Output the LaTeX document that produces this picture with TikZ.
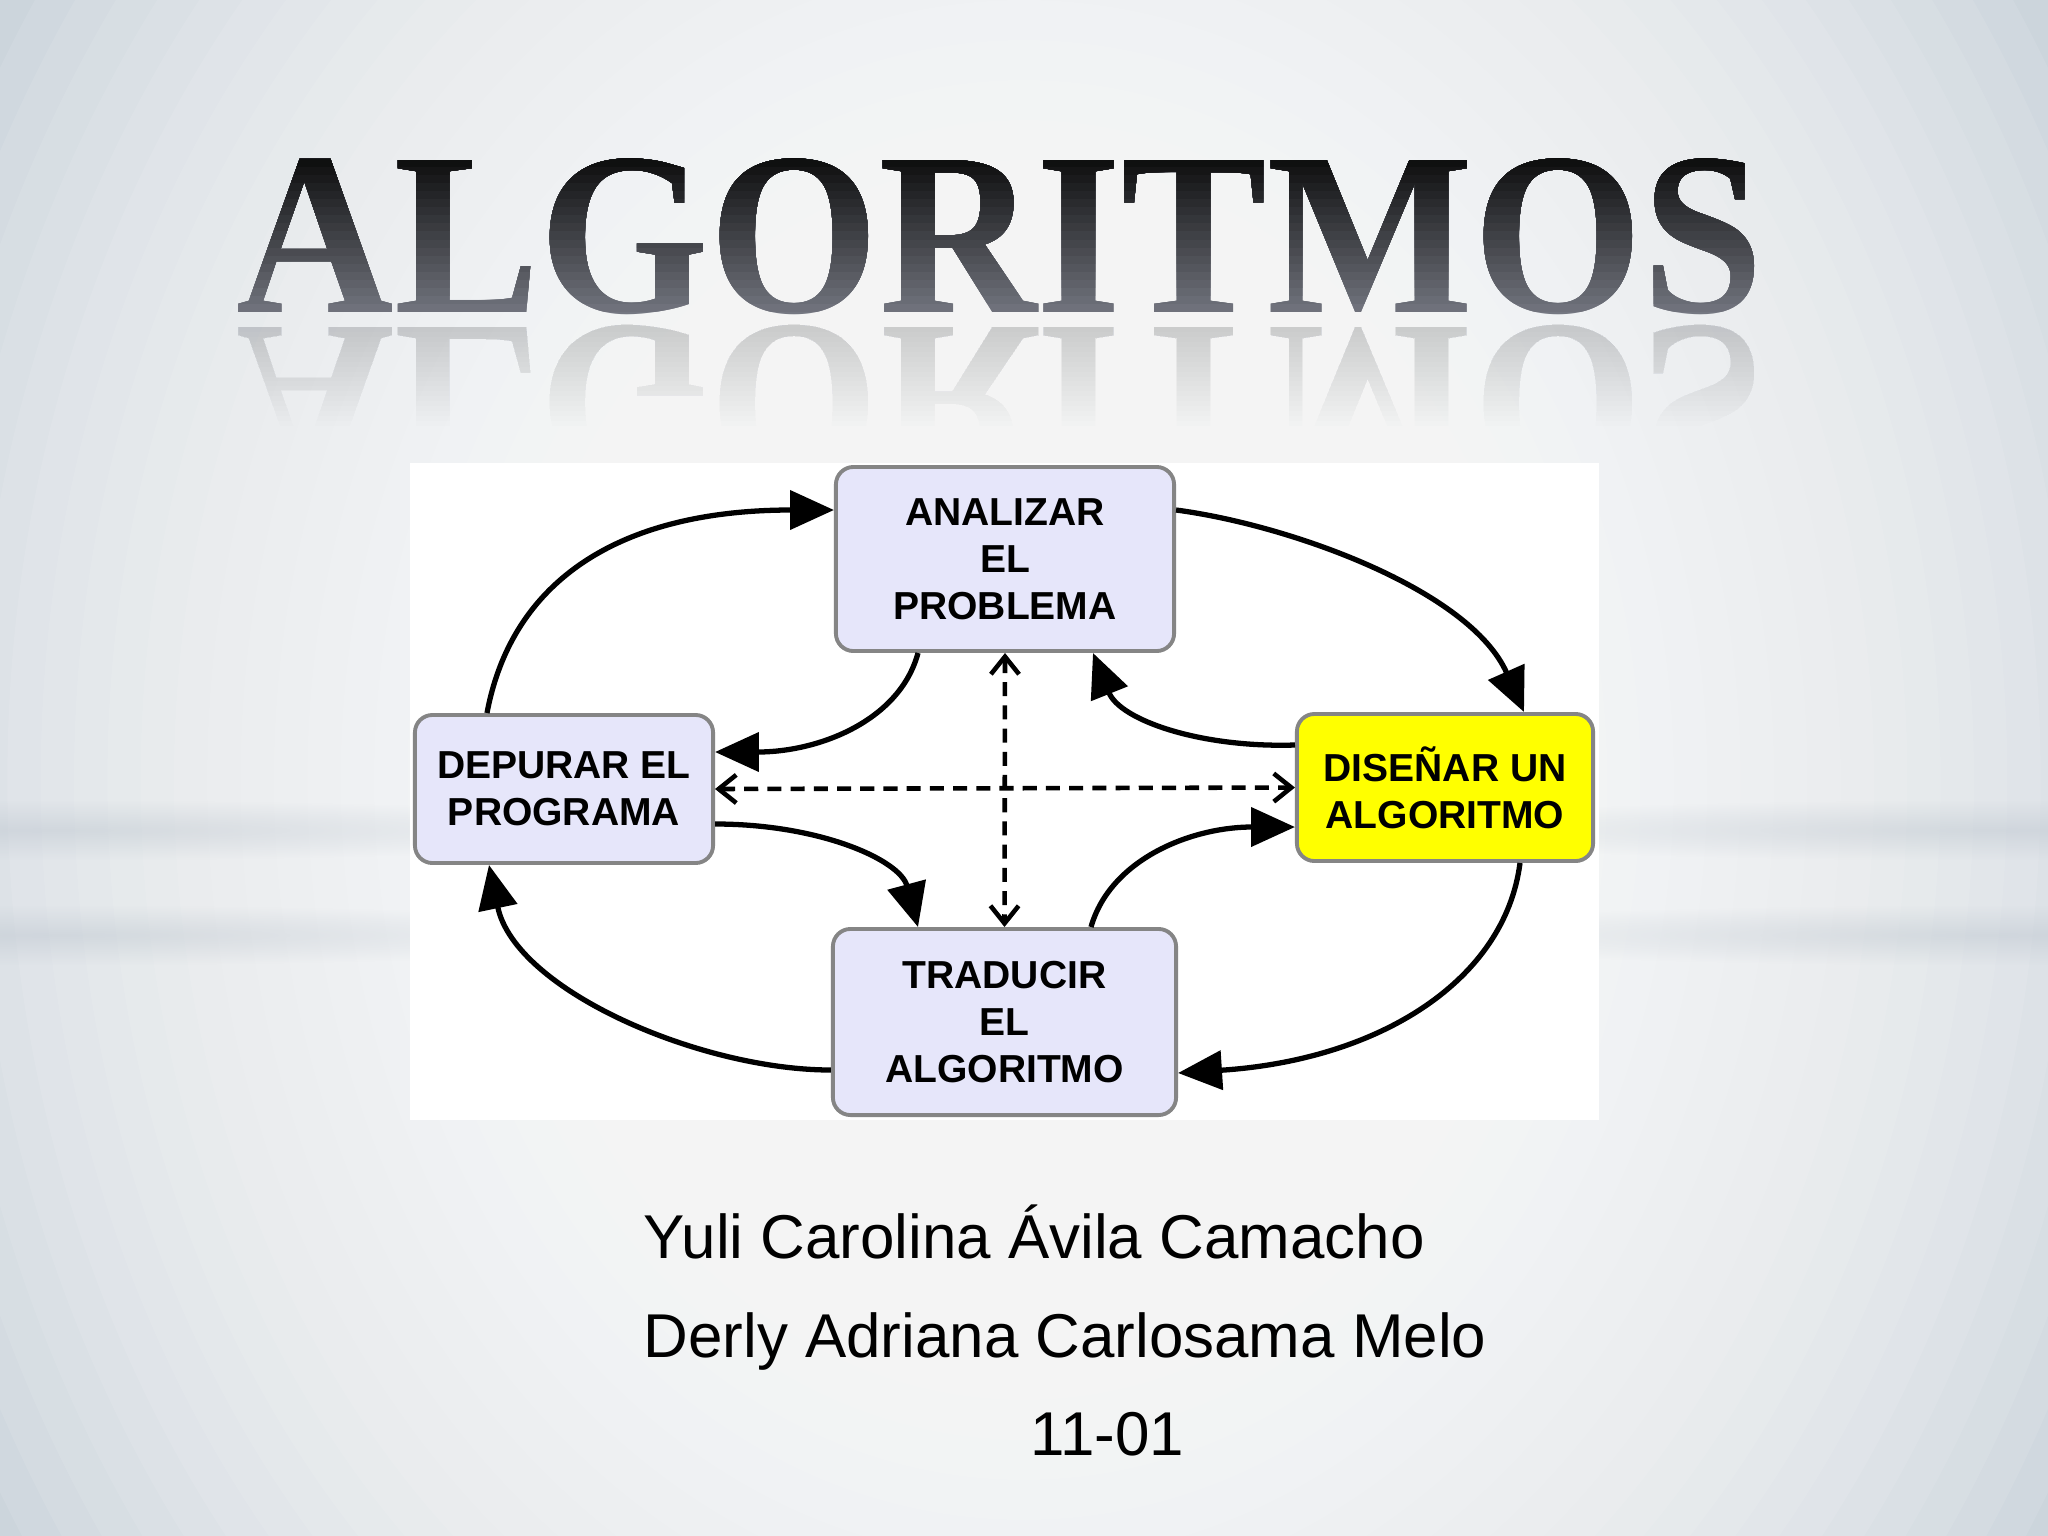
\documentclass[tikz,border=0pt]{standalone}
\usepackage{fontspec}
\newfontfamily\sansf{Liberation Sans}
\newfontfamily\seriff{Liberation Serif}
\usetikzlibrary{arrows.meta,shapes.misc,fadings}
\definecolor{boxfill}{HTML}{E6E6FA}
\definecolor{boxline}{HTML}{858585}
\definecolor{ylw}{HTML}{FFFF00}
\definecolor{bgout}{HTML}{C2CDD6}
\definecolor{bandc}{HTML}{BCC5CE}
\definecolor{ttop}{HTML}{0A0A0A}
\definecolor{tbot}{HTML}{747781}
\definecolor{refl}{HTML}{8C9098}
\tikzfading[name=softband, inner color=transparent!55, outer color=transparent!100]
\tikzset{
  box/.style={rectangle, rounded corners=5pt,
    draw=boxline, line width=1.1pt, fill=boxfill, inner sep=0pt, align=center,
    font=\sansf\bfseries\fontsize{11.1}{13.4}\selectfont},
  arr/.style={line width=1.5pt, -{Triangle[length=12.5pt,width=11pt]}},
  darr/.style={line width=1.3pt, dash pattern=on 4pt off 2.6pt,
    {Straight Barb[length=5pt,width=8pt]}-{Straight Barb[length=5pt,width=8pt]}},
  ttl/.style={anchor=base west, inner sep=0pt, font=\seriff\bfseries\fontsize{66}{66}\selectfont},
  auth/.style={anchor=base west, inner sep=0pt, font=\sansf\fontsize{17.6}{20}\selectfont}
}
\begin{document}
\begin{tikzpicture}[x=0.01cm,y=-0.01cm]
\useasboundingbox (0,0) rectangle (2048,1536);
% background: layered light ellipses
\fill[bgout] (0,0) rectangle (2048,1536);
\foreach \k in {0,...,29} {
  \pgfmathsetmacro{\s}{1-0.8*\k/30}
  \fill[white, opacity=0.09] (1024,780) ellipse ({1250*\s} and {1500*\s});
}
\fill[bandc, path fading=softband] (-600,800) rectangle (700,860);
\fill[bandc, path fading=softband] (-600,905) rectangle (700,965);
\fill[bandc, path fading=softband] (1350,800) rectangle (2650,860);
\fill[bandc, path fading=softband] (1350,905) rectangle (2650,965);
% title with vertical gradient
\foreach \k in {0,...,20} {
  \pgfmathsetmacro{\yc}{320 - \k*8.1}
  \pgfmathtruncatemacro{\mixp}{100*\k/20}
  \begin{scope}
    \clip (0,0) rectangle (2048,\yc);
    \node[ttl, text=ttop!\mixp!tbot, name=tt\k] at (236,312) {\scalebox{0.94}[1]{ALGORITMOS}};
  \end{scope}
}
% reflection
\foreach \k in {0,...,19} {
  \pgfmathsetmacro{\yc}{425 - \k*4.9}
  \begin{scope}
    \clip (0,320) rectangle (2048,\yc);
    \node[ttl, text=refl, text opacity=0.02, name=tr\k] at (236,327) {\scalebox{0.94}[-1]{ALGORITMOS}};
  \end{scope}
}
% diagram area
\fill[white] (410,463) rectangle (1599,1120);
\node[box, minimum width=3.38cm, minimum height=1.84cm] (ana) at (1005,559) {ANALIZAR\\EL\\PROBLEMA};
\node[box, minimum width=2.98cm, minimum height=1.48cm] (dep) at (564,789) {DEPURAR EL\\PROGRAMA};
\node[box, fill=ylw, minimum width=2.96cm, minimum height=1.47cm] (dis) at (1445,787.5) {DISEÑAR UN\\ALGORITMO};
\node[box, minimum width=3.43cm, minimum height=1.86cm] (tra) at (1004.5,1022) {TRADUCIR\\EL\\ALGORITMO};
% connectors
\draw[arr] (dep.north -| 487,0) .. controls (512,580) and (620,510) .. (ana.west |- 0,510);
\draw[arr] (ana.east |- 0,510) .. controls (1290,525) and (1470,590) .. (dis.north -| 1524,0);
\draw[arr] (dis.south -| 1520,0) .. controls (1505,980) and (1380,1060) .. (tra.east |- 0,1073);
\draw[arr] (tra.west |- 0,1070) .. controls (700,1070) and (515,990) .. (dep.south -| 489,0);
\draw[arr] (ana.south -| 918,0) .. controls (900,720) and (820,752) .. (dep.east |- 0,752);
\draw[arr] (dep.east |- 0,824) .. controls (820,824) and (900,860) .. (tra.north -| 918,0);
\draw[arr] (tra.north -| 1091,0) .. controls (1110,860) and (1190,827) .. (dis.west |- 0,827);
\draw[arr] (dis.west |- 0,745) .. controls (1200,748) and (1120,720) .. (ana.south -| 1093,0);
\draw[darr] (ana.south) -- (tra.north);
\draw[darr] (dep.east) -- (dis.west);
% authors
\node[auth] (a1) at (643,1258) {Yuli Carolina Ávila Camacho};
\node[auth] (a2) at (643,1357) {Derly Adriana Carlosama Melo};
\node[auth] (a3) at (1030,1455) {11-01};
\end{tikzpicture}
\end{document}
